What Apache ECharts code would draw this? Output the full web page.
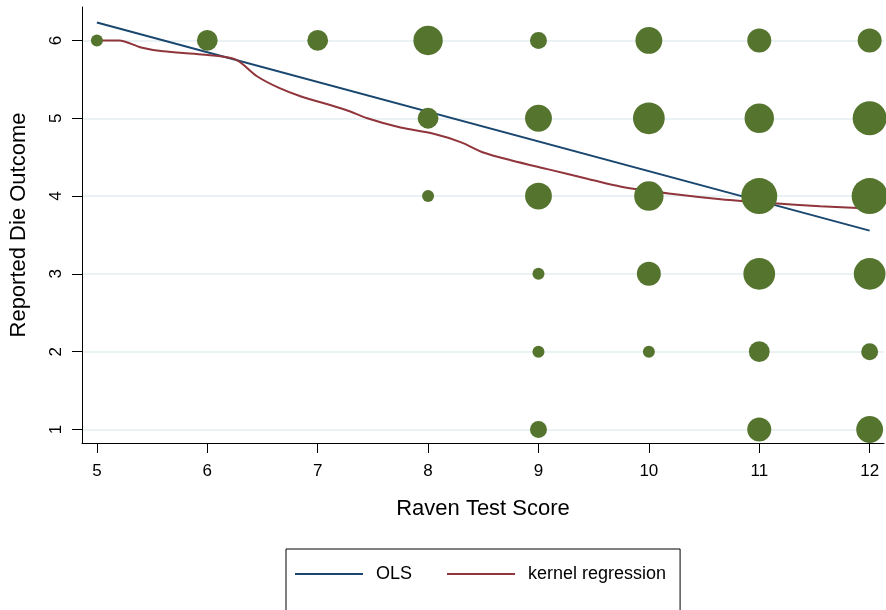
<!DOCTYPE html>
<html>
<head>
<meta charset="utf-8">
<script src="https://cdn.jsdelivr.net/npm/echarts@6/dist/echarts.min.js"></script>
<style>
  html, body { margin: 0; padding: 0; background: #fff; }
  #chart { width: 886px; height: 610px; }
</style>
</head>
<body>
<div id="chart"></div>
<script>
// bubble data: raven score, reported outcome, count (area ~ count)
const bubbleX = [5, 6, 7, 8, 9, 10, 11, 12, 8, 9, 10, 11, 12, 8, 9, 10, 11, 12, 9, 10, 11, 12, 9, 10, 11, 12, 9, 11, 12];
const bubbleY = [6, 6, 6, 6, 6, 6, 6, 6, 5, 5, 5, 5, 5, 4, 4, 4, 4, 4, 3, 3, 3, 3, 2, 2, 2, 2, 1, 1, 1];
const bubbleN = [1, 3, 3, 6, 2, 5, 4, 4, 3, 5, 7, 6, 8, 1, 5, 6, 9, 9, 1, 4, 7, 7, 1, 1, 3, 2, 2, 4, 5];

// OLS fit end points
const olsX = [5, 12];
const olsY = [6.23, 3.556];

// kernel regression curve
const kernX = [5, 5.2, 5.4, 5.6, 5.95, 6.25, 6.45, 6.65, 6.85, 7.25, 7.45, 7.75, 8.05, 8.3, 8.5, 8.75, 9.1, 9.45, 9.75, 10.2, 10.65, 11.1, 11.55, 12];
const kernY = [6, 6, 5.91, 5.86, 5.82, 5.76, 5.54, 5.39, 5.28, 5.11, 5.0, 4.88, 4.8, 4.69, 4.56, 4.46, 4.34, 4.22, 4.12, 4.03, 3.96, 3.91, 3.87, 3.84];

const xTicks = [5, 6, 7, 8, 9, 10, 11, 12];
const yTicks = [1, 2, 3, 4, 5, 6];

const myChart = echarts.init(document.getElementById("chart"));

const font = "Liberation Sans, Arial, Helvetica, sans-serif";

const option = {
  backgroundColor: "#fff",
  animation: false,
  grid: { left: 80, right: 2, top: 7, bottom: 167 },
  legend: {
    data: ["OLS", "kernel regression"],
    left: 286,
    top: 549,
    orient: "horizontal",
    padding: [16, 14, 40, 9],
    borderColor: "#000",
    borderWidth: 1,
    itemWidth: 68,
    itemHeight: 2,
    itemGap: 35,
    icon: "rect",
    textStyle: { fontFamily: font, fontSize: 18, color: "#000", padding: [0, 0, 0, 8] },
  },
  xAxis: {
    type: "value",
    min: 4.865,
    max: 12.13,
    name: "Raven Test Score",
    nameLocation: "middle",
    nameGap: 55,
    nameTextStyle: { fontFamily: font, fontSize: 22, color: "#000" },
    axisLine: { show: true, lineStyle: { color: "#000", width: 1 } },
    axisTick: { show: true, length: 10, customValues: xTicks, lineStyle: { color: "#000" } },
    axisLabel: { customValues: xTicks, margin: 20, fontFamily: font, fontSize: 17, color: "#000" },
    splitLine: { show: false },
  },
  yAxis: {
    type: "value",
    min: 0.826,
    max: 6.43,
    name: "Reported Die Outcome",
    nameLocation: "middle",
    nameGap: 52,
    nameTextStyle: { fontFamily: font, fontSize: 22, color: "#000" },
    axisLine: { show: true, lineStyle: { color: "#000", width: 1 } },
    axisTick: { show: true, length: 10, customValues: yTicks, lineStyle: { color: "#000" } },
    axisLabel: { customValues: yTicks, rotate: 90, margin: 17, fontFamily: font, fontSize: 17, color: "#000" },
    splitLine: { show: true, lineStyle: { color: "#eaf2f3", width: 2 } },
  },
  series: [
    {
      name: "OLS",
      type: "line",
      data: olsX.map((x, i) => [x, olsY[i]]),
      showSymbol: false,
      color: "#1a476f",
      lineStyle: { width: 2 },
      z: 2,
    },
    {
      name: "kernel regression",
      type: "line",
      data: kernX.map((x, i) => [x, kernY[i]]),
      showSymbol: false,
      smooth: 0.3,
      color: "#90353b",
      lineStyle: { width: 2 },
      z: 2,
    },
    {
      name: "freq",
      type: "scatter",
      data: bubbleX.map((x, i) => [x, bubbleY[i], bubbleN[i]]),
      symbolSize: (d) => 12 * Math.sqrt(d[2]),
      itemStyle: { color: "#55752f", opacity: 1 },
      z: 3,
    },
  ],
};

myChart.setOption(option);
window.addEventListener("resize", () => {
  myChart.resize();
});
</script>
</body>
</html>
